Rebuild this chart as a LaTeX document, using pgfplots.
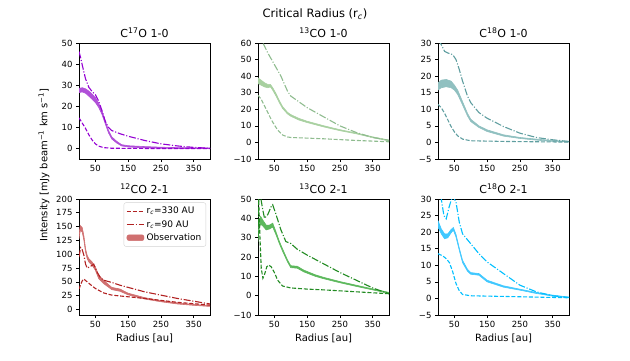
\documentclass[border=0pt]{standalone}
\usepackage{fontspec}
\setmainfont{DejaVu Sans}
\usepackage{pgfplots}
\usepackage{pgfplotstable}
\pgfplotsset{compat=1.18}
\usepgfplotslibrary{fillbetween}

\definecolor{violetL}{HTML}{9400D3}
\definecolor{violetO}{HTML}{B050D8}
\definecolor{sageL}{HTML}{8FBC8F}
\definecolor{sageO}{HTML}{A8D0A0}
\definecolor{tealL}{HTML}{5F9EA0}
\definecolor{tealO}{HTML}{90C0C0}
\definecolor{redL}{HTML}{B22222}
\definecolor{redO}{HTML}{D07070}
\definecolor{greenL}{HTML}{228B22}
\definecolor{greenO}{HTML}{5CB85C}
\definecolor{blueL}{HTML}{00BFFF}
\definecolor{blueO}{HTML}{40C8FF}

% observation bands: x  lower  upper
\pgfplotstableread{
0 26.5 28.5
10 26.8 28.8
20 26.2 28.3
30 24.8 27.2
40 23.3 25.8
50 21.8 24.2
60 19.5 21.5
70 16.2 17.8
80 11.8 13.2
90 7.4 8.6
100 4.5 5.5
115 2.6 3.4
130 1.2 1.8
150 0.7 1.3
200 0.3 0.9
250 0.1 0.6
300 0.0 0.4
400 -0.1 0.2
}\obsA
\pgfplotstableread{
0 35.5 39
10 34.5 37.5
20 33.5 36
30 33 35
38 33.5 35
45 31.5 33
55 28 29.5
65 24 25.3
75 20.5 21.7
90 17.2 18.2
100 15.8 16.8
125 13.5 14.5
150 12 12.8
200 9.4 10.1
250 7.1 7.7
300 5.2 5.7
350 2.9 3.4
400 0.9 1.4
}\obsB
\pgfplotstableread{
0 15.8 18
10 16.5 18.8
25 16.8 19
40 16.5 18.5
50 15.8 17.3
60 14.5 15.8
75 11.3 12.3
90 8 8.8
100 6.3 7
125 4.5 5
150 3.3 3.8
200 1.9 2.3
250 1.2 1.5
300 0.7 1
350 0.3 0.6
400 0.1 0.3
}\obsC
\pgfplotstableread{
0 128 138
4 143 152
10 140 148
15 125 133
20 104 110
25 92 98
30 86 92
40 80 86
50 71 77
60 56 62
75 47 53
100 36 40
125 33 37
150 26.5 29.5
200 19 21.5
250 14 16
300 10 12
350 7.5 9
400 5.5 7
}\obsD
\pgfplotstableread{
0 28 31
4 35 39
8 37 41
15 36 39
25 34 36.5
35 34.5 36.5
45 35.5 37.5
55 31.5 33
65 27 28.2
75 23 24.2
90 17.5 18.5
100 14.5 15.5
120 14.2 15.2
140 12.3 13.2
175 10 10.8
200 8.8 9.5
250 6.7 7.3
300 4.8 5.4
350 3 3.5
400 1.2 1.7
}\obsE
\pgfplotstableread{
0 21.5 23.5
10 19.5 21
20 18 19.5
30 18.3 19.5
40 19.8 20.8
47 20.6 21.4
55 18.5 19.3
65 14.5 15.2
75 10.8 11.5
90 8.2 8.8
100 7.3 7.8
125 7 7.5
150 5 5.5
200 3.4 3.8
250 2.5 2.8
300 1.5 1.8
350 0.7 1
400 0.2 0.4
}\obsF

\newcommand{\obsband}[2]{%
  \addplot[#2, line width=0.6pt, name path=lo, forget plot] table[x index=0, y index=1] {#1};
  \addplot[#2, line width=0.6pt, name path=hi, forget plot] table[x index=0, y index=2] {#1};
  \addplot[fill=#2, draw=none, forget plot] fill between[of=lo and hi];
}

\pgfplotsset{
  panel/.style={scale only axis, width=131pt, height=116pt,
    xmin=0, xmax=400, xtick={50,150,250,350},
    tick align=outside, xtick pos=bottom, ytick pos=left,
    major tick length=3pt, tick style={black, line width=0.7pt},
    axis line style={line width=0.9pt},
    tick label style={font=\fontsize{8.5}{9}\selectfont},
    /pgf/number format/assume math mode=true,
    title style={font=\fontsize{11}{12}\selectfont, yshift=-4pt},
    xlabel style={font=\fontsize{10}{11}\selectfont, yshift=1pt}},
  mdash/.style={line width=1.1pt, dash pattern=on 4pt off 1.8pt},
  mdashdot/.style={line width=1.1pt, dash pattern=on 7pt off 1.8pt on 1.1pt off 1.8pt},
}

\begin{document}
\begin{tikzpicture}
\path (0,0) rectangle (630pt,360pt);

\node[font=\fontsize{11.5}{13}\selectfont] at (315pt,346pt) {Critical Radius (r\textsubscript{\textit{c}})};
\node[rotate=90, font=\fontsize{10}{11}\selectfont] at (44pt,195pt) {Intensity [mJy beam\textsuperscript{−1} km s\textsuperscript{−1}]};

% C17O 1-0
\begin{axis}[panel, at={(79pt,201pt)}, anchor=south west,
  ymin=-5, ymax=50, ytick={0,10,...,50},
  title={C\textsuperscript{17}O 1-0}]
\obsband{\obsA}{violetO}
\addplot[violetL, mdash] coordinates {(0,14.5)(10,12)(20,9.5)(30,6.5)(40,4)(50,2.2)(60,1.1)(75,0.4)(100,0.1)(200,0)(400,0)};
\addplot[violetL, mdashdot] coordinates {(0,46)(5,43)(10,39.5)(20,33)(30,29)(40,27)(50,25.5)(60,22.5)(70,18)(80,13)(90,10)(100,8.5)(125,7)(150,5.8)(200,3.8)(250,2.2)(300,1.2)(350,0.5)(400,0.1)};
\end{axis}

% 13CO 1-0
\begin{axis}[panel, at={(258pt,201pt)}, anchor=south west,
  ymin=-10, ymax=60, ytick={-10,0,10,...,60},
  yticklabels={−10,0,10,20,30,40,50,60},
  title={\textsuperscript{13}CO 1-0}]
\obsband{\obsB}{sageO}
\addplot[sageL, mdash] coordinates {(0,28.5)(10,26)(20,22)(30,18)(40,14)(50,10.5)(60,7.5)(75,4.5)(90,3.3)(100,3)(150,2.6)(200,2.2)(300,1.2)(400,0.4)};
\addplot[sageL, mdashdot] coordinates {(0,66)(15,60)(30,54)(50,47)(70,40)(90,31)(100,28)(125,24.5)(150,21)(200,15.5)(250,10)(300,6)(350,3)(400,1.3)};
\end{axis}

% C18O 1-0
\begin{axis}[panel, at={(438pt,201pt)}, anchor=south west,
  ymin=-5, ymax=30, ytick={-5,0,5,...,30},
  yticklabels={−5,0,5,10,15,20,25,30},
  title={C\textsuperscript{18}O 1-0}]
\obsband{\obsC}{tealO}
\addplot[tealL, mdash] coordinates {(0,11.5)(10,10.5)(20,8.8)(30,6.8)(40,4.8)(50,3.2)(60,2)(75,1)(100,0.5)(200,0.3)(400,0.1)};
\addplot[tealL, mdashdot] coordinates {(0,31)(10,29.5)(20,27.5)(30,27)(45,26.5)(55,25)(65,22)(75,18.5)(90,14)(100,12)(125,9)(150,7.3)(200,4.8)(250,2.8)(300,1.5)(350,0.8)(400,0.3)};
\end{axis}

% 12CO 2-1
\begin{axis}[panel, at={(79pt,45pt)}, anchor=south west,
  ymin=-10, ymax=200, ytick={0,25,...,200},
  title={\textsuperscript{12}CO 2-1}, xlabel={Radius [au]},
  legend style={at={(0.97,0.97)}, anchor=north east, font=\fontsize{9}{10}\selectfont,
    draw=gray!35, rounded corners=2pt, row sep=1pt, inner sep=2.5pt},
  legend cell align=left]
\obsband{\obsD}{redO}
\addplot[redL, mdash, forget plot] coordinates {(0,37)(5,45)(10,52)(15,55)(25,50)(35,45)(50,38)(75,30)(100,26)(150,23)(200,20)(250,16.5)(300,13)(350,10.5)(400,8)};
\addplot[redL, mdashdot, forget plot] coordinates {(0,95)(5,112)(10,108)(15,98)(20,82)(25,75)(35,78)(45,82)(55,68)(65,58)(75,53)(100,49)(125,44)(150,40)(200,32)(250,26)(300,20)(350,15)(400,10)};
\addlegendimage{draw=redL, mdash}
\addlegendentry{r\textsubscript{\textit{c}}=330 AU}
\addlegendimage{draw=redL, mdashdot}
\addlegendentry{r\textsubscript{\textit{c}}=90 AU}
\addlegendimage{area legend, fill=redO, draw=redO}
\addlegendentry{Observation}
\end{axis}

% 13CO 2-1
\begin{axis}[panel, at={(258pt,45pt)}, anchor=south west,
  ymin=-10, ymax=50, ytick={-10,0,10,...,50},
  yticklabels={−10,0,10,20,30,40,50},
  title={\textsuperscript{13}CO 2-1}, xlabel={Radius [au]}]
\obsband{\obsE}{greenO}
\addplot[greenL, mdash] coordinates {(0,55)(3,45)(6,30)(10,14)(15,9)(20,11)(27,15)(33,15.8)(40,15)(50,12)(60,8)(75,5)(100,4)(150,3.4)(200,3)(300,2)(400,1)};
\addplot[greenL, mdashdot] coordinates {(0,30)(3,55)(6,52)(10,49)(15,44)(20,40)(30,42)(40,46)(45,47)(55,42)(70,34)(85,28)(100,27)(120,24)(150,21)(200,16.5)(250,12)(300,8)(350,4)(400,1)};
\end{axis}

% C18O 2-1
\begin{axis}[panel, at={(438pt,45pt)}, anchor=south west,
  ymin=-5, ymax=30, ytick={-5,0,5,...,30},
  yticklabels={−5,0,5,10,15,20,25,30},
  title={C\textsuperscript{18}O 2-1}, xlabel={Radius [au]}]
\obsband{\obsF}{blueO}
\addplot[blueL, mdash] coordinates {(0,13.5)(15,12.8)(25,12)(35,10.8)(45,8)(55,4.5)(65,2.3)(75,1.2)(100,0.8)(200,0.6)(300,0.4)(400,0.2)};
\addplot[blueL, mdashdot] coordinates {(0,38)(5,33)(10,30)(18,25)(25,24)(35,28)(45,31)(55,29)(65,23)(75,19.5)(100,16.5)(125,13.5)(150,11)(200,7.5)(250,4)(300,2)(350,0.8)(400,0.3)};
\end{axis}
\end{tikzpicture}
\end{document}
